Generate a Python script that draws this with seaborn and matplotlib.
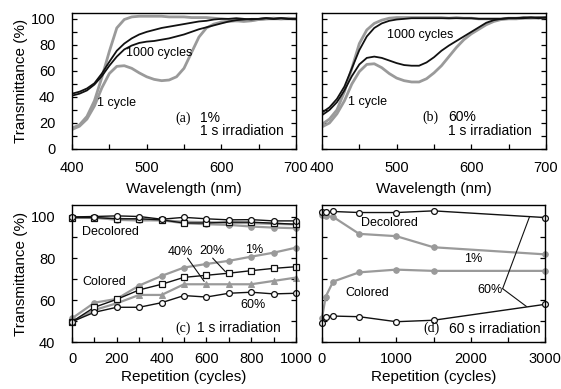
import matplotlib
matplotlib.use("Agg")
import matplotlib.pyplot as plt
from matplotlib.ticker import MultipleLocator
import pandas as pd
import seaborn as sns

# ---------------- data ----------------
wavelength = list(range(400, 701, 10))

# panel (a) 1 % , 1 s irradiation
a_dec_1 = [16, 18.5, 25, 37, 55, 75, 93, 99.5, 101.5, 102, 102, 102, 102, 101.5, 101.5,
           101.5, 101, 101, 101, 100.5, 100, 99.5, 98.5, 98, 98.5, 99.5, 100, 100.5, 100, 100.5, 100]
a_col_1 = [15, 17.5, 23, 33, 47, 58, 63.5, 64, 62, 58.5, 55.5, 53.5, 52.5, 53, 55.5,
           62, 74, 86, 93, 96, 97.5, 98, 98.5, 99, 99, 99.5, 100, 100, 100, 100, 100]
a_dec_1000 = [42.5, 44, 46.5, 50.5, 58, 67, 75.5, 81, 85, 88, 90, 91.5, 93, 94, 95,
              96, 97, 98, 98.5, 99.5, 100, 100, 100.5, 100, 99.5, 100, 100.5, 100, 100.5, 100, 100]
a_col_1000 = [41, 42.5, 45, 49.5, 56, 64, 71, 76.5, 79.5, 81.5, 82.5, 83, 84, 85, 86.5,
              88, 90, 92, 93.5, 95, 96.5, 98, 99, 99.5, 100, 100, 100.5, 100, 100.5, 100, 100]

# panel (b) 60 %, 1 s irradiation
b_dec_1 = [19, 23, 30, 44, 62, 81, 91.5, 96.5, 99, 100.5, 101, 101, 101, 101, 101,
           101, 101, 100.5, 101, 100.5, 100.5, 100, 100, 100, 100, 100.5, 100.5, 101, 101, 100.5, 101]
b_col_1 = [17, 20, 27, 37, 50, 59.5, 65, 65.5, 62.5, 58, 54.5, 52.5, 51.5, 51.5, 54,
           58.5, 64, 71, 78, 84, 88.5, 92, 95.5, 98, 99.5, 100, 100, 100.5, 100.5, 101, 101]
b_dec_1000 = [28, 32, 38.5, 48, 62, 76, 86.5, 93, 96.5, 98.5, 99.5, 100, 100.5, 100.5, 100.5,
              100.5, 100.5, 100.5, 100.5, 100.5, 100.5, 100, 100, 100, 100, 100.5, 100.5, 101, 101, 100.5, 101]
b_col_1000 = [26, 30, 36, 45, 56, 65, 70, 71, 70, 68, 66, 64.5, 64, 64, 66.5,
              70.5, 75.5, 79.5, 83, 86.5, 90, 93.5, 97, 99, 100, 100.5, 100.5, 100.5, 101, 101, 101]

# panel (c) 1 s irradiation
cycles_c = [0, 100, 200, 300, 400, 500, 600, 700, 800, 900, 1000]
c_dec_1 = [99.5, 99.5, 98.4, 98.1, 98.2, 96.8, 96.3, 96.0, 95.2, 94.7, 94.4]
c_dec_20 = [99.5, 99.5, 98.9, 98.9, 98.4, 96.9, 96.9, 97.3, 97.3, 96.8, 96.3]
c_dec_40 = [99.5, 99.3, 98.9, 98.6, 98.2, 97.5, 97.3, 97.0, 96.8, 96.5, 96.2]
c_dec_60 = [99.8, 100.0, 100.3, 100.0, 98.7, 99.6, 98.9, 98.4, 98.5, 97.9, 97.9]
c_col_1 = [51.3, 58.8, 60.6, 67.0, 71.6, 75.6, 77.3, 78.8, 80.8, 82.7, 85.1]
c_col_20 = [49.7, 56.6, 60.4, 64.9, 67.6, 70.9, 71.9, 72.9, 74.1, 75.2, 76.0]
c_col_40 = [49.7, 55.3, 58.5, 62.5, 62.5, 67.6, 67.6, 67.6, 67.6, 69.2, 70.8]
c_col_60 = [49.7, 54.2, 56.6, 56.6, 58.8, 62.2, 61.5, 63.3, 63.8, 63.0, 63.3]

# panel (d) 60 s irradiation
cycles_d = [1, 50, 150, 500, 1000, 1500, 3000]
d_dec_1 = [100.8, 100.3, 99.8, 91.7, 90.6, 85.3, 81.9]
d_col_1 = [51.6, 61.7, 68.9, 73.3, 74.6, 74.0, 74.0]
d_dec_60 = [102.2, 102.0, 102.4, 101.9, 101.9, 102.7, 99.5]
d_col_60 = [49.1, 52.1, 52.4, 52.1, 49.7, 50.4, 58.0]

# ---------------- style ----------------
sns.set_style("ticks")
plt.rcParams["font.family"] = ["Liberation Sans", "DejaVu Sans"]
plt.rcParams["axes.linewidth"] = 1.0
plt.rcParams["text.color"] = "black"
plt.rcParams["axes.labelcolor"] = "black"

GRAY = "#9a9a9a"
BLACK = "#111111"
W, H = 561, 389
fig = plt.figure(figsize=(W / 100, H / 100), dpi=100)


def add_ax(x0, y0, x1, y1):
    return fig.add_axes([x0 / W, 1 - y1 / H, (x1 - x0) / W, (y1 - y0) / H])


ax_a = add_ax(72, 13, 296, 149)
ax_b = add_ax(322, 13, 546, 149)
ax_c = add_ax(72, 205, 296, 342)
ax_d = add_ax(322, 205, 545, 342)

# spectra
for ax, series in [(ax_a, [a_dec_1, a_col_1, a_dec_1000, a_col_1000]),
                   (ax_b, [b_dec_1, b_col_1, b_dec_1000, b_col_1000])]:
    df = pd.DataFrame({"wl": wavelength, "g1": series[0], "g2": series[1],
                       "k1": series[2], "k2": series[3]})
    for col in ["g1", "g2"]:
        sns.lineplot(data=df, x="wl", y=col, ax=ax, color=GRAY, lw=2.0, legend=False)
    for col in ["k1", "k2"]:
        sns.lineplot(data=df, x="wl", y=col, ax=ax, color=BLACK, lw=1.3, legend=False)
    ax.set_xlim(400, 700)
    ax.set_ylim(0, 104.5)
    ax.xaxis.set_major_locator(MultipleLocator(100))
    ax.xaxis.set_minor_locator(MultipleLocator(50))
    ax.yaxis.set_major_locator(MultipleLocator(20))
    ax.yaxis.set_minor_locator(MultipleLocator(10))
    ax.tick_params(axis="x", pad=9)

# repetition panels
dfc = pd.DataFrame({"cyc": cycles_c, "d1": c_dec_1, "d20": c_dec_20, "d40": c_dec_40, "d60": c_dec_60,
                    "c1": c_col_1, "c20": c_col_20, "c40": c_col_40, "c60": c_col_60})
for col in ["d1", "c1"]:
    sns.lineplot(data=dfc, x="cyc", y=col, ax=ax_c, color=GRAY, lw=1.6, marker="o",
                 markersize=4, markeredgecolor=GRAY, legend=False)
for col in ["d40", "c40"]:
    sns.lineplot(data=dfc, x="cyc", y=col, ax=ax_c, color=GRAY, lw=1.6, marker="^",
                 markersize=4.5, markeredgecolor=GRAY, legend=False)
for col in ["d20", "c20"]:
    sns.lineplot(data=dfc, x="cyc", y=col, ax=ax_c, color=BLACK, lw=1.0, marker="s",
                 markersize=4.2, markerfacecolor="white", markeredgecolor=BLACK,
                 markeredgewidth=0.9, legend=False)
for col in ["d60", "c60"]:
    sns.lineplot(data=dfc, x="cyc", y=col, ax=ax_c, color=BLACK, lw=1.0, marker="o",
                 markersize=4.2, markerfacecolor="white", markeredgecolor=BLACK,
                 markeredgewidth=0.9, legend=False)

dfd = pd.DataFrame({"cyc": cycles_d, "d1": d_dec_1, "c1": d_col_1, "d60": d_dec_60, "c60": d_col_60})
for col in ["d1", "c1"]:
    sns.lineplot(data=dfd, x="cyc", y=col, ax=ax_d, color=GRAY, lw=1.6, marker="o",
                 markersize=4, markeredgecolor=GRAY, legend=False)
for col in ["d60", "c60"]:
    sns.lineplot(data=dfd, x="cyc", y=col, ax=ax_d, color=BLACK, lw=1.0, marker="o",
                 markersize=4.2, markerfacecolor="white", markeredgecolor=BLACK,
                 markeredgewidth=0.9, legend=False)

ax_c.set_xlim(0, 1000)
ax_c.xaxis.set_major_locator(MultipleLocator(200))
ax_c.xaxis.set_minor_locator(MultipleLocator(100))
ax_d.set_xlim(0, 3000)
ax_d.xaxis.set_major_locator(MultipleLocator(1000))
ax_d.xaxis.set_minor_locator(MultipleLocator(500))
for ax in (ax_c, ax_d):
    ax.set_ylim(40, 105.5)
    ax.yaxis.set_major_locator(MultipleLocator(20))
    ax.yaxis.set_minor_locator(MultipleLocator(10))
    ax.tick_params(axis="x", pad=7)
    for m in ax.lines:
        m.set_clip_on(False)

for ax in (ax_a, ax_b, ax_c, ax_d):
    ax.set_xlabel("")
    ax.set_ylabel("")
    for s in ax.spines.values():
        s.set_visible(True)
        s.set_color("black")
    ax.tick_params(which="both", direction="in", length=3.5, width=0.9, right=True, top=False,
                   labelsize=10.5, colors="black")
    ax.tick_params(axis="y", pad=12)

ax_b.tick_params(axis="y", labelleft=False)
ax_d.tick_params(axis="y", labelleft=False)

# axis labels
fig.text(21 / W, 1 - 81 / H, "Transmittance (%)", rotation=90, ha="center", va="center", fontsize=11)
fig.text(21 / W, 1 - 274 / H, "Transmittance (%)", rotation=90, ha="center", va="center", fontsize=11)
fig.text(184 / W, 1 - 189 / H, "Wavelength (nm)", ha="center", va="center", fontsize=11)
fig.text(434 / W, 1 - 189 / H, "Wavelength (nm)", ha="center", va="center", fontsize=11)
fig.text(184 / W, 1 - 377 / H, "Repetition (cycles)", ha="center", va="center", fontsize=11)
fig.text(434 / W, 1 - 377 / H, "Repetition (cycles)", ha="center", va="center", fontsize=11)

SERIF = ["Liberation Serif", "DejaVu Serif"]
fs = 9
fl = 10

# panel a texts
ax_a.text(472, 73.5, "1000 cycles", fontsize=fs, ha="left", va="center")
ax_a.text(433.5, 35.2, "1 cycle", fontsize=fs, ha="left", va="center")
ax_a.text(538, 23.7, "(a)", fontsize=fl, ha="left", va="center", family=SERIF)
ax_a.text(571.4, 23.7, "1%", fontsize=fl, ha="left", va="center")
ax_a.text(571.4, 14.0, "1 s irradiation", fontsize=fl, ha="left", va="center")

# panel b texts
ax_b.text(487, 87.3, "1000 cycles", fontsize=fs, ha="left", va="center")
ax_b.text(434.8, 36, "1 cycle", fontsize=fs, ha="left", va="center")
ax_b.text(535, 24.5, "(b)", fontsize=fl, ha="left", va="center", family=SERIF)
ax_b.text(568.7, 24.5, "60%", fontsize=fl, ha="left", va="center")
ax_b.text(568.7, 14.0, "1 s irradiation", fontsize=fl, ha="left", va="center")

# panel c texts
ax_c.text(44.6, 92.7, "Decolored", fontsize=fs, ha="left", va="center")
ax_c.text(44.6, 68.8, "Colored", fontsize=fs, ha="left", va="center")
ax_c.text(428.6, 83.1, "40%", fontsize=fs, ha="left", va="center")
ax_c.text(567, 83.3, "20%", fontsize=fs, ha="left", va="center")
ax_c.text(772, 84.1, "1%", fontsize=fs, ha="left", va="center")
ax_c.text(750, 57.8, "60%", fontsize=fs, ha="left", va="center")
ax_c.text(460, 46.8, "(c)", fontsize=fl, ha="left", va="center", family=SERIF)
ax_c.text(558, 46.8, "1 s irradiation", fontsize=fl, ha="left", va="center")
ax_c.plot([516, 590], [80.1, 69.0], color=BLACK, lw=0.8)
ax_c.plot([628, 685], [80.1, 73.6], color=BLACK, lw=0.8)

# panel d texts
ax_d.text(530, 97.1, "Decolored", fontsize=fs, ha="left", va="center")
ax_d.text(1907, 79.7, "1%", fontsize=fs, ha="left", va="center")
ax_d.text(314, 63.6, "Colored", fontsize=fs, ha="left", va="center")
ax_d.text(2096, 65.0, "60%", fontsize=fs, ha="left", va="center")
ax_d.text(1367, 46.4, "(d)", fontsize=fl, ha="left", va="center", family=SERIF)
ax_d.text(1704, 46.4, "60 s irradiation", fontsize=fl, ha="left", va="center")
ax_d.plot([2430, 2790], [65.5, 99.7], color=BLACK, lw=0.8)
ax_d.plot([2430, 2750], [65.5, 57.0], color=BLACK, lw=0.8)

fig.savefig("out.png", dpi=100)
